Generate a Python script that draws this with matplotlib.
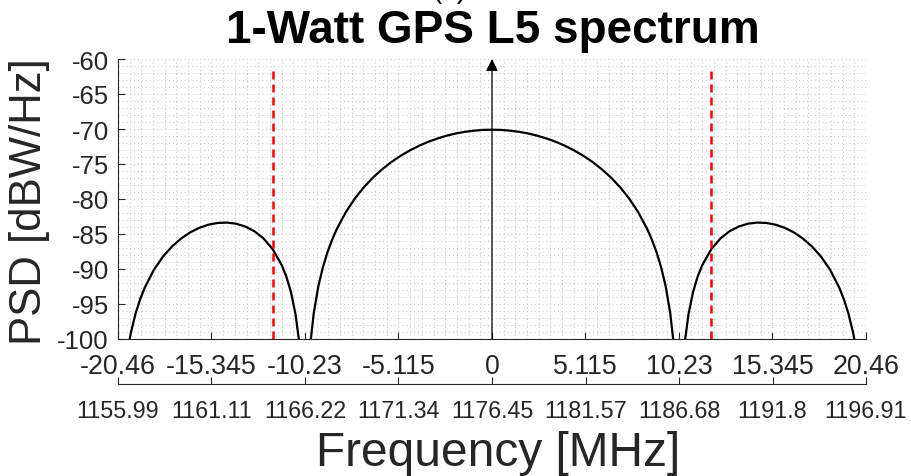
import matplotlib
matplotlib.use("Agg")
import matplotlib.pyplot as plt
import numpy as np

plt.rcParams['font.family'] = ['Liberation Sans', 'DejaVu Sans']

# Frequency offset from the L5 carrier [MHz] and PSD [dBW/Hz]
main_lobe_f = [-9.91, -9.75, -9.5, -9.25, -9.0, -8.75, -8.5, -8.0, -7.5, -7.0, -6.5, -6.0,
               -5.5, -5.0, -4.5, -4.0, -3.5, -3.0, -2.5, -2.0, -1.5, -1.0, -0.5, 0.0,
               0.5, 1.0, 1.5, 2.0, 2.5, 3.0, 3.5, 4.0, 4.5, 5.0, 5.5, 6.0,
               6.5, 7.0, 7.5, 8.0, 8.5, 8.75, 9.0, 9.25, 9.5, 9.75, 9.91]
main_lobe_psd = [-100.0, -96.29, -92.46, -89.73, -87.59, -85.84, -84.34, -81.89, -79.92, -78.29,
                 -76.91, -75.73, -74.71, -73.83, -73.07, -72.41, -71.84, -71.37, -70.97, -70.65,
                 -70.41, -70.24, -70.13, -70.10,
                 -70.13, -70.24, -70.41, -70.65, -70.97, -71.37, -71.84, -72.41, -73.07, -73.83,
                 -74.71, -75.73, -76.91, -78.29, -79.92, -81.89, -84.34, -85.84, -87.59, -89.73,
                 -92.46, -96.29, -100.0]

left_lobe_f = [-19.82, -19.75, -19.5, -19.25, -19.0, -18.5, -18.0, -17.5, -17.0, -16.5, -16.0,
               -15.5, -15.0, -14.5, -14.0, -13.5, -13.0, -12.5, -12.0, -11.5, -11.25, -11.0,
               -10.75, -10.57]
left_lobe_psd = [-100.0, -99.05, -96.38, -94.33, -92.68, -90.13, -88.23, -86.77, -85.63, -84.75,
                 -84.10, -83.66, -83.42, -83.37, -83.53, -83.93, -84.60, -85.63, -87.16, -89.46,
                 -91.09, -93.28, -96.44, -100.0]

right_lobe_f = [10.57, 10.75, 11.0, 11.25, 11.5, 12.0, 12.5, 13.0, 13.5, 14.0, 14.5, 15.0,
                15.5, 16.0, 16.5, 17.0, 17.5, 18.0, 18.5, 19.0, 19.25, 19.5, 19.75, 19.82]
right_lobe_psd = [-100.0, -96.44, -93.28, -91.09, -89.46, -87.16, -85.63, -84.60, -83.93, -83.53,
                  -83.37, -83.42, -83.66, -84.10, -84.75, -85.63, -86.77, -88.23, -90.13, -92.68,
                  -94.33, -96.38, -99.05, -100.0]

# Receiver band edges [MHz]
band_edges = [-12.0, 12.0]

offset_ticks = [-20.46, -15.345, -10.23, -5.115, 0, 5.115, 10.23, 15.345, 20.46]
offset_labels = ['-20.46', '-15.345', '-10.23', '-5.115', '0', '5.115', '10.23', '15.345', '20.46']
carrier_labels = ['1155.99', '1161.11', '1166.22', '1171.34', '1176.45',
                  '1181.57', '1186.68', '1191.8', '1196.91']
psd_ticks = [-100, -95, -90, -85, -80, -75, -70, -65, -60]

W, H = 912, 477
fig = plt.figure(figsize=(W / 100, H / 100), dpi=100)
L, R, T, B = 118, 866, 60, 340
ax = fig.add_axes([L / W, 1 - B / H, (R - L) / W, (B - T) / H])

axis_col = '#262626'
ax.set_xlim(-20.46, 20.46)
ax.set_ylim(-100, -60)

ax.set_xticks(offset_ticks)
ax.set_xticklabels(offset_labels)
ax.set_yticks(psd_ticks)
ax.set_yticklabels([str(v) for v in psd_ticks])
ax.set_xticks(np.arange(-20.46, 20.47, 5.115 / 8), minor=True)
ax.set_yticks(np.arange(-100, -59, 1), minor=True)
ax.grid(which='both', linestyle=(0, (1, 2.5)), color='#cccccc', linewidth=0.8)
ax.set_axisbelow(True)

ax.tick_params(which='major', direction='in', length=5, width=0.8, colors=axis_col)
ax.tick_params(axis='x', which='major', pad=10, labelsize=19.3)
ax.tick_params(axis='y', which='major', pad=6.5, labelsize=18.5)
ax.tick_params(which='minor', length=0)
for s in ['top', 'right']:
    ax.spines[s].set_visible(False)
for s in ['left', 'bottom']:
    ax.spines[s].set_color(axis_col)
    ax.spines[s].set_linewidth(0.8)

ax.plot(main_lobe_f, main_lobe_psd, color='black', linewidth=1.6, zorder=3)
ax.plot(left_lobe_f, left_lobe_psd, color='black', linewidth=1.6, zorder=3)
ax.plot(right_lobe_f, right_lobe_psd, color='black', linewidth=1.6, zorder=3)

for fe in band_edges:
    ax.plot([fe, fe], [-100, -61], color='red', linewidth=1.8,
            linestyle=(0, (3.2, 2.0)), zorder=4)

ax.annotate('', xy=(0, -60), xytext=(0, -100),
            arrowprops=dict(arrowstyle='-|>', color='black', lw=0.9,
                            mutation_scale=18, shrinkA=0, shrinkB=0),
            zorder=5)

# Absolute carrier frequency axis
ax2 = fig.add_axes([L / W, 1 - 385 / H, (R - L) / W, 1e-4])
ax2.set_xlim(-20.46, 20.46)
ax2.set_xticks(offset_ticks)
ax2.set_xticklabels(carrier_labels)
ax2.set_yticks([])
ax2.patch.set_visible(False)
for s in ['top', 'right', 'left']:
    ax2.spines[s].set_visible(False)
ax2.spines['bottom'].set_color(axis_col)
ax2.spines['bottom'].set_linewidth(0.8)
ax2.tick_params(axis='x', direction='in', length=5, width=0.8, colors=axis_col,
                labelsize=16.8, pad=11)

fig.text(498 / W, 1 - 466 / H, 'Frequency [MHz]', ha='center', va='baseline',
         fontsize=34.5, color=axis_col)
fig.text(30 / W, 1 - 201.5 / H, 'PSD [dBW/Hz]', ha='center', va='center',
         rotation=90, fontsize=31.5, color=axis_col)
fig.text(493 / W, 1 - 43 / H, '1-Watt GPS L5 spectrum', ha='center', va='baseline',
         fontsize=33, fontweight='bold', color='black')
fig.text(449 / W, 1 + 1.5 / H, '(a)', ha='center', va='baseline', fontsize=20,
         color='black')

fig.savefig('out.png', dpi=100)
